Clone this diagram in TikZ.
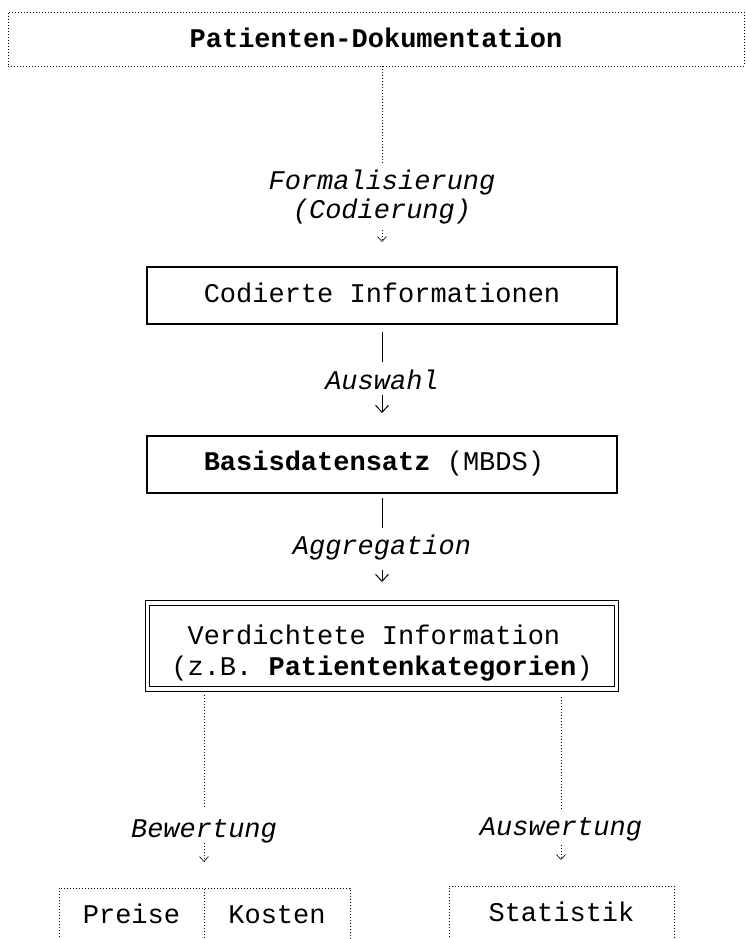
\documentclass[tikz,border=0pt]{standalone}
\usepackage{fontspec}
\setmonofont{Liberation Mono}
\usetikzlibrary{arrows.meta}
\begin{document}
\begin{tikzpicture}[x=1pt,y=-1pt,
  boxfont/.style={font=\ttfamily\fontsize{27}{31}\selectfont},
  lbl/.style={font=\ttfamily\itshape\fontsize{27}{31}\selectfont,
    inner sep=0pt, outer sep=0pt, text height=18pt, text depth=6pt},
  basebox/.style={boxfont, inner sep=0pt, outer sep=0pt,
    text height=18pt, text depth=6pt},
  solidbox/.style={basebox, draw, line width=1.1pt},
  dotbox/.style={basebox, draw, line width=0.9pt, dash pattern=on 0.9pt off 2.1pt},
  dblbox/.style={basebox, draw, line width=1pt, double, double distance=3.5pt},
  link/.style={line width=0.9pt},
  arr/.style={link, -{Straight Barb[length=7pt,width=13pt,line width=1pt]}},
  dotlink/.style={line width=0.9pt, dash pattern=on 0.9pt off 2.1pt},
  dotarr/.style={dotlink, -{Straight Barb[length=5pt,width=9pt,line width=0.6pt]}}
]
\useasboundingbox (0,0) rectangle (745,939);

% boxes
\node[dotbox, minimum width=736pt, minimum height=54pt, text height=22pt, text depth=4pt]
  (doku) at (376,39) {\bfseries Patienten-Dokumentation};
\node[solidbox, minimum width=470pt, minimum height=57pt, text height=19pt]
  (cod) at (382,295.5) {Codierte Informationen};
\node[solidbox, minimum width=470pt, minimum height=57pt]
  (mbds) at (382,464.5) {\textbf{Basisdatensatz} (MBDS)\hspace*{0.6em}};
\node[dblbox, minimum width=469pt, minimum height=86pt, align=center,
  text height=65pt, text depth=7pt]
  (verd) at (382,646) {Verdichtete Information\hspace*{0.6em}\\(z.B. \textbf{Patientenkategorien})};
\node[dotbox, minimum width=145pt, minimum height=58pt] (preise) at (131.5,917) {Preise};
\node[dotbox, minimum width=146pt, minimum height=58pt] (kosten) at (277,917) {Kosten};
\node[dotbox, minimum width=225pt, minimum height=58pt] (stat) at (561.5,915) {Statistik};

% labels
\node[lbl] (formal) at (382,183) {Formalisierung};
\node[lbl] (codier) at (382,212) {(Codierung)};
\node[lbl] (ausw) at (382,383) {Auswahl};
\node[lbl] (aggr) at (382,548) {Aggregation};
\node[lbl] (bew) at (204,831) {Bewertung};
\node[lbl] (auswert) at (561,829) {Auswertung};

% connectors
\draw[dotlink, shorten >=8pt] (formal |- doku.south) -- (formal);
\draw[dotarr, shorten <=6pt, shorten >=25pt] (codier) -- (cod);

\draw[link, shorten <=8pt, shorten >=9pt] (cod) -- (ausw);
\draw[arr, shorten >=23pt] (ausw) -- (mbds);

\draw[link, shorten <=5pt, shorten >=8pt] (mbds) -- (aggr);
\draw[arr, shorten <=10pt, shorten >=21pt] (aggr) -- (verd);

\draw[dotlink, shorten <=6pt, shorten >=11pt] (bew |- verd.south) -- (bew);
\draw[dotarr, shorten >=26pt] (bew) -- (bew |- preise.north);

\draw[dotlink, shorten <=8pt, shorten >=7pt] (auswert |- verd.south) -- (auswert);
\draw[dotarr, shorten <=4pt, shorten >=26pt] (auswert) -- (auswert |- stat.north);
\end{tikzpicture}
\end{document}
